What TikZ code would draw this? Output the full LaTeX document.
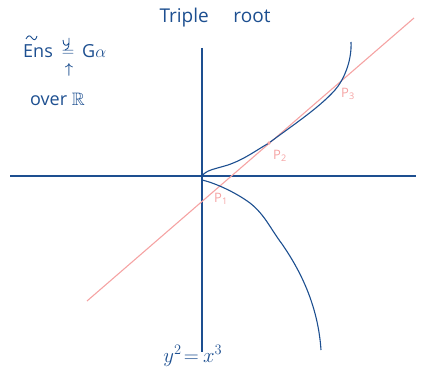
\documentclass[tikz,border=0pt]{standalone}
\usepackage{fontspec}
\setmainfont{Open Sans}
\usepackage{amsmath,amssymb}
\definecolor{ink}{HTML}{1D4F90}
\definecolor{rose}{HTML}{F5A3A3}
\begin{document}
\begin{tikzpicture}[x=1pt,y=-1pt,
  axis/.style={ink,line width=1.2pt},
  curve/.style={ink,line width=1.1pt},
  tline/.style={rose,line width=1.1pt},
  penstroke/.style={ink,line width=0.9pt},
  note/.style={ink,inner sep=0pt,font=\fontsize{18}{20}\selectfont},
  plabel/.style={rose,inner sep=0pt,font=\fontsize{13}{14}\selectfont}]
\useasboundingbox (0,0) rectangle (422,374);
% axes
\coordinate (vtop) at (202,48);
\coordinate (vbot) at (202,352);
\coordinate (hl) at (10,176);
\coordinate (hr) at (416,176);
\draw[axis] (vtop) -- (vbot);
\draw[axis] (hl) -- (hr);
% tangent line
\coordinate (lA) at (87,301);
\coordinate (lB) at (414,18);
\draw[tline] (lA) -- (lB);
% curves
\coordinate (o1) at (202,176);
\coordinate (o2) at (202,180);
\coordinate (uend) at (351,42);
\coordinate (lend) at (321,350);
\draw[curve] (o1) .. controls (206,170) and (215,169) .. (228,165)
  .. controls (245,159) and (255,151) .. (269,143)
  .. controls (290,127) and (318,109) .. (335,90)
  .. controls (343,81) and (352,62) .. (uend);
\draw[curve] (o2) .. controls (215,183) and (235,192) .. (250,203)
  .. controls (265,215) and (270,228) .. (282,244)
  .. controls (300,270) and (318,305) .. (lend);
% points
\coordinate (p2) at (269,143);
\fill[rose] (p2) circle (1.8);
\node[plabel] (P1) at (221,199) {P\textsubscript{1}};
\node[plabel] (P2) at (280,156) {P\textsubscript{2}};
\node[plabel] (P3) at (348,94) {P\textsubscript{3}};
% texts
\node[note,font=\fontsize{19}{21}\selectfont] (title) at (215,18) {Triple\hspace{1.3em}root};
\node[note,anchor=base west] (ens) at (23,58) {Ens};
\draw[penstroke] (26,39) .. controls (28,35) and (30,35) .. (32,38) .. controls (34,41) and (36,40) .. (37,36);
\node[note,font=\fontsize{18}{20}\selectfont] (eqsign) at (68,53) {$=$};
\draw[penstroke] (63,40) .. controls (63,46) and (67,47) .. (69,43) -- (69,38)
  (69,43) .. controls (69,48) and (67,50) .. (65,50);
\node[note,anchor=base west] (ga) at (82,58) {G$\alpha$};
\node[ink,inner sep=0pt,font=\fontsize{14}{16}\selectfont] (arr) at (69,70) {$\boldsymbol{\uparrow}$};
\node[note,anchor=base west] (over) at (30,106) {over $\mathbb{R}$};
\node[note,anchor=base east,font=\fontsize{20}{22}\selectfont] (eqL) at (199,362) {$y^2\!=$};
\node[note,anchor=base west,font=\fontsize{20}{22}\selectfont] (eqR) at (203,362) {$x^3$};
\end{tikzpicture}
\end{document}
